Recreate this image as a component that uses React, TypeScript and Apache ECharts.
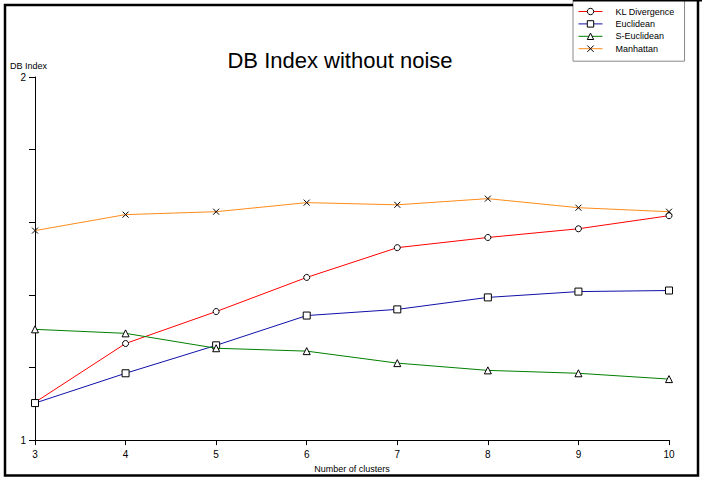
import React, { useEffect, useRef } from "react";
import * as echarts from "echarts";

const clusters = [3, 4, 5, 6, 7, 8, 9, 10];
const klDivergence = [1.104, 1.266, 1.354, 1.448, 1.53, 1.558, 1.582, 1.618];
const euclidean = [1.102, 1.184, 1.261, 1.343, 1.36, 1.393, 1.409, 1.412];
const sEuclidean = [1.305, 1.294, 1.253, 1.245, 1.212, 1.192, 1.184, 1.168];
const manhattan = [1.577, 1.621, 1.629, 1.654, 1.648, 1.665, 1.64, 1.629];
const seriesNames = ["KL Divergence", "Euclidean", "S-Euclidean", "Manhattan"];
const yLabels = [1, 2];

const FONT = "Liberation Sans, Arial, Helvetica, sans-serif";
const crossPath = "path://M0,0L10,10M10,0L0,10";

export default function App() {
  const ref = useRef<HTMLDivElement>(null);
  useEffect(() => {
    if (!ref.current) return;
    const chart = echarts.init(ref.current, undefined, { renderer: "svg" });
    const colors = ["#ff0000", "#1010a8", "#008000", "#ff8c1a"];
    const symbols = ["circle", "rect", "triangle", crossPath];
    const sizes = [6, 7, 7, 6];
    const datas = [klDivergence, euclidean, sEuclidean, manhattan];
    const series = seriesNames.map((name, i) => ({
      name,
      type: "line",
      data: clusters.map((c, j) => [c, datas[i][j]]),
      color: colors[i],
      symbol: symbols[i],
      symbolSize: sizes[i],
      showAllSymbol: true,
      lineStyle: { color: colors[i], width: 1 },
      itemStyle: { color: "#fff", borderColor: "#000", borderWidth: 1 },
      z: 3 + i,
    }));
    chart.setOption({
      animation: false,
      backgroundColor: "#fff",
      textStyle: { fontFamily: FONT },
      grid: { left: 35, right: 33, top: 77, bottom: 37 },
      legend: {
        orient: "vertical",
        left: 573,
        top: 0,
        padding: [7, 10, 8, 5],
        itemGap: 3.4,
        itemWidth: 24,
        itemHeight: 8,
        backgroundColor: "#fff",
        borderColor: "#888",
        borderWidth: 1,
        borderRadius: 0,
        lineStyle: { width: 1 },
        itemStyle: { borderWidth: 1 },
        textStyle: { fontSize: 9, color: "#000", fontFamily: FONT, padding: [0, 0, 0, 8] },
        data: seriesNames,
      },
      xAxis: {
        type: "value",
        min: 3,
        max: 10,
        interval: 1,
        name: "Number of clusters",
        nameLocation: "middle",
        nameGap: 21,
        nameTextStyle: { fontSize: 9, color: "#000", fontFamily: FONT },
        axisLine: { show: true, lineStyle: { color: "#000", width: 1 } },
        axisTick: { show: true, length: 5, lineStyle: { color: "#000" } },
        axisLabel: { fontSize: 10, color: "#000", margin: 9, fontFamily: FONT },
        splitLine: { show: false },
      },
      yAxis: {
        type: "value",
        min: 1,
        max: 2,
        interval: 0.2,
        axisLine: { show: true, lineStyle: { color: "#000", width: 1 } },
        axisTick: { show: true, length: 6, lineStyle: { color: "#000" } },
        axisLabel: {
          fontSize: 10,
          color: "#000",
          margin: 9,
          fontFamily: FONT,
          formatter: (v: number) => (yLabels.some((l) => Math.abs(l - v) < 1e-6) ? String(Math.round(v)) : ""),
        },
        splitLine: { show: false },
      },
      graphic: [
        {
          type: "text",
          left: 10,
          top: 61,
          style: { text: "DB Index", fontSize: 9, fill: "#000", fontFamily: FONT },
        },
        {
          type: "text",
          x: 340,
          y: 60,
          style: {
            text: "DB Index without noise",
            fontSize: 22,
            fill: "#000",
            fontFamily: FONT,
            textAlign: "center",
            textVerticalAlign: "middle",
          },
        },
        {
          type: "polyline",
          shape: { points: [[573, 5], [5, 5], [5, 475.5], [698, 475.5], [698, 0]] },
          style: { stroke: "#000", lineWidth: 2.5, fill: "none" },
          z: 10,
        },
        {
          type: "line",
          shape: { x1: 573, y1: 0.75, x2: 702, y2: 0.75 },
          style: { stroke: "#000", lineWidth: 1.5 },
          z: 10,
        },
      ],
      series,
    });
    return () => chart.dispose();
  }, []);
  return <div ref={ref} style={{ position: "fixed", left: 0, top: 0, width: 702, height: 478 }} />;
}
